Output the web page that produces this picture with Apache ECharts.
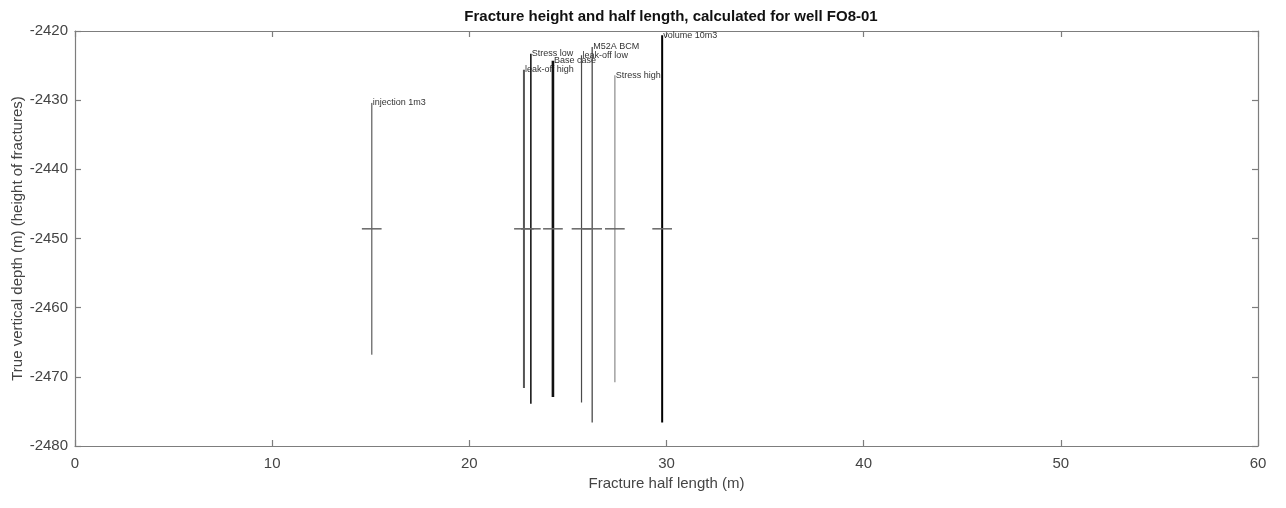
<!DOCTYPE html>
<html>
<head>
<meta charset="utf-8">
<script src="https://cdn.jsdelivr.net/npm/echarts@6/dist/echarts.min.js"></script>
<style>html,body{margin:0;padding:0;background:#fff}#c{width:1286px;height:508px}</style>
</head>
<body>
<div id="c"></div>
<script>
// ---- data ----
var fractureNames = ['injection 1m3', 'leak-off high', 'Stress low', 'Base case', 'leak-off low', 'M52A BCM', 'Stress high', 'volume 10m3'];
var halfLength   = [15.05, 22.77, 23.12, 24.24, 25.69, 26.23, 27.38, 29.78];
var topDepth     = [-2430.4, -2425.6, -2423.3, -2424.3, -2423.5, -2422.3, -2426.4, -2420.6];
var bottomDepth  = [-2466.8, -2471.6, -2473.9, -2472.9, -2473.7, -2476.6, -2470.8, -2476.6];
var centerDepth  = [-2448.6, -2448.6, -2448.6, -2448.6, -2448.6, -2448.6, -2448.6, -2448.6];
var xTicks = [0, 10, 20, 30, 40, 50, 60];
var yTicks = [-2480, -2470, -2460, -2450, -2440, -2430, -2420];

// styling (kept separate from data)
var lineColors = ['#7a7a7a', '#555555', '#1a1a1a', '#111111', '#4a4a4a', '#3a3a3a', '#a8a8a8', '#000000'];
var lineWidths = [1.5, 2, 1.6, 2.6, 1.2, 1.2, 1.6, 2];

var rows = halfLength.map(function (x, i) {
  return [x, topDepth[i], bottomDepth[i], centerDepth[i], i];
});

var chart = echarts.init(document.getElementById('c'), null, {renderer: 'canvas'});
var font = '"Liberation Sans", Arial, sans-serif';
var axisLineStyle = {color: '#7d7d7d', width: 1.2};

var option = {
  animation: false,
  backgroundColor: '#ffffff',
  title: {
    text: 'Fracture height and half length, calculated for well FO8-01',
    left: 666, top: 4, textAlign: 'center',
    textStyle: {fontFamily: font, fontSize: 15, fontWeight: 'bold', color: '#111'}
  },
  grid: {left: 75, right: 28, top: 31, bottom: 62, containLabel: false, outerBoundsMode: 'none'},
  xAxis: [{
    type: 'value', min: 0, max: 60, interval: 10, position: 'bottom',
    name: 'Fracture half length (m)', nameLocation: 'middle', nameGap: 29,
    nameTextStyle: {fontFamily: font, fontSize: 15, color: '#444'},
    axisLine: {show: true, lineStyle: axisLineStyle},
    axisTick: {show: true, inside: true, length: 6, lineStyle: axisLineStyle},
    axisLabel: {fontFamily: font, fontSize: 15, color: '#444', margin: 10,
      formatter: function (v) { return xTicks.indexOf(v) >= 0 ? String(v) : ''; }},
    splitLine: {show: false}
  }, {
    type: 'value', min: 0, max: 60, interval: 10, position: 'top',
    axisLine: {show: true, onZero: false, lineStyle: axisLineStyle},
    axisTick: {show: true, inside: true, length: 6, lineStyle: axisLineStyle},
    axisLabel: {show: false}, splitLine: {show: false}
  }],
  yAxis: [{
    type: 'value', min: -2480, max: -2420, interval: 10, position: 'left',
    name: 'True vertical depth (m) (height of fractures)', nameLocation: 'middle', nameGap: 50,
    nameMoveOverlap: false,
    nameTextStyle: {fontFamily: font, fontSize: 15, color: '#444'},
    axisLine: {show: true, onZero: false, lineStyle: axisLineStyle},
    axisTick: {show: true, inside: true, length: 6, lineStyle: axisLineStyle},
    axisLabel: {fontFamily: font, fontSize: 15, color: '#444', margin: 7,
      formatter: function (v) { return yTicks.indexOf(v) >= 0 ? String(v) : ''; }},
    splitLine: {show: false}
  }, {
    type: 'value', min: -2480, max: -2420, interval: 10, position: 'right',
    axisLine: {show: true, onZero: false, lineStyle: axisLineStyle},
    axisTick: {show: true, inside: true, length: 6, lineStyle: axisLineStyle},
    axisLabel: {show: false}, splitLine: {show: false}
  }],
  series: [{
    type: 'custom',
    xAxisIndex: 0, yAxisIndex: 0,
    clip: false,
    data: rows,
    renderItem: function (params, api) {
      var x = api.value(0), top = api.value(1), bot = api.value(2), c = api.value(3), i = api.value(4);
      var pTop = api.coord([x, top]);
      var pBot = api.coord([x, bot]);
      var pL = api.coord([x - 0.5, c]);
      var pR = api.coord([x + 0.5, c]);
      return {
        type: 'group',
        children: [{
          type: 'line',
          shape: {x1: pTop[0], y1: pTop[1], x2: pBot[0], y2: pBot[1]},
          style: {stroke: lineColors[i], lineWidth: lineWidths[i]}
        }, {
          type: 'line',
          shape: {x1: pL[0], y1: pL[1], x2: pR[0], y2: pR[1]},
          style: {stroke: '#666', lineWidth: 1.5}
        }, {
          type: 'text',
          x: pTop[0] + 1, y: pTop[1],
          style: {text: fractureNames[i], fill: '#333', font: '9px ' + font,
                  textAlign: 'left', textVerticalAlign: 'middle'}
        }]
      };
    }
  }]
};
chart.setOption(option);
</script>
</body>
</html>
